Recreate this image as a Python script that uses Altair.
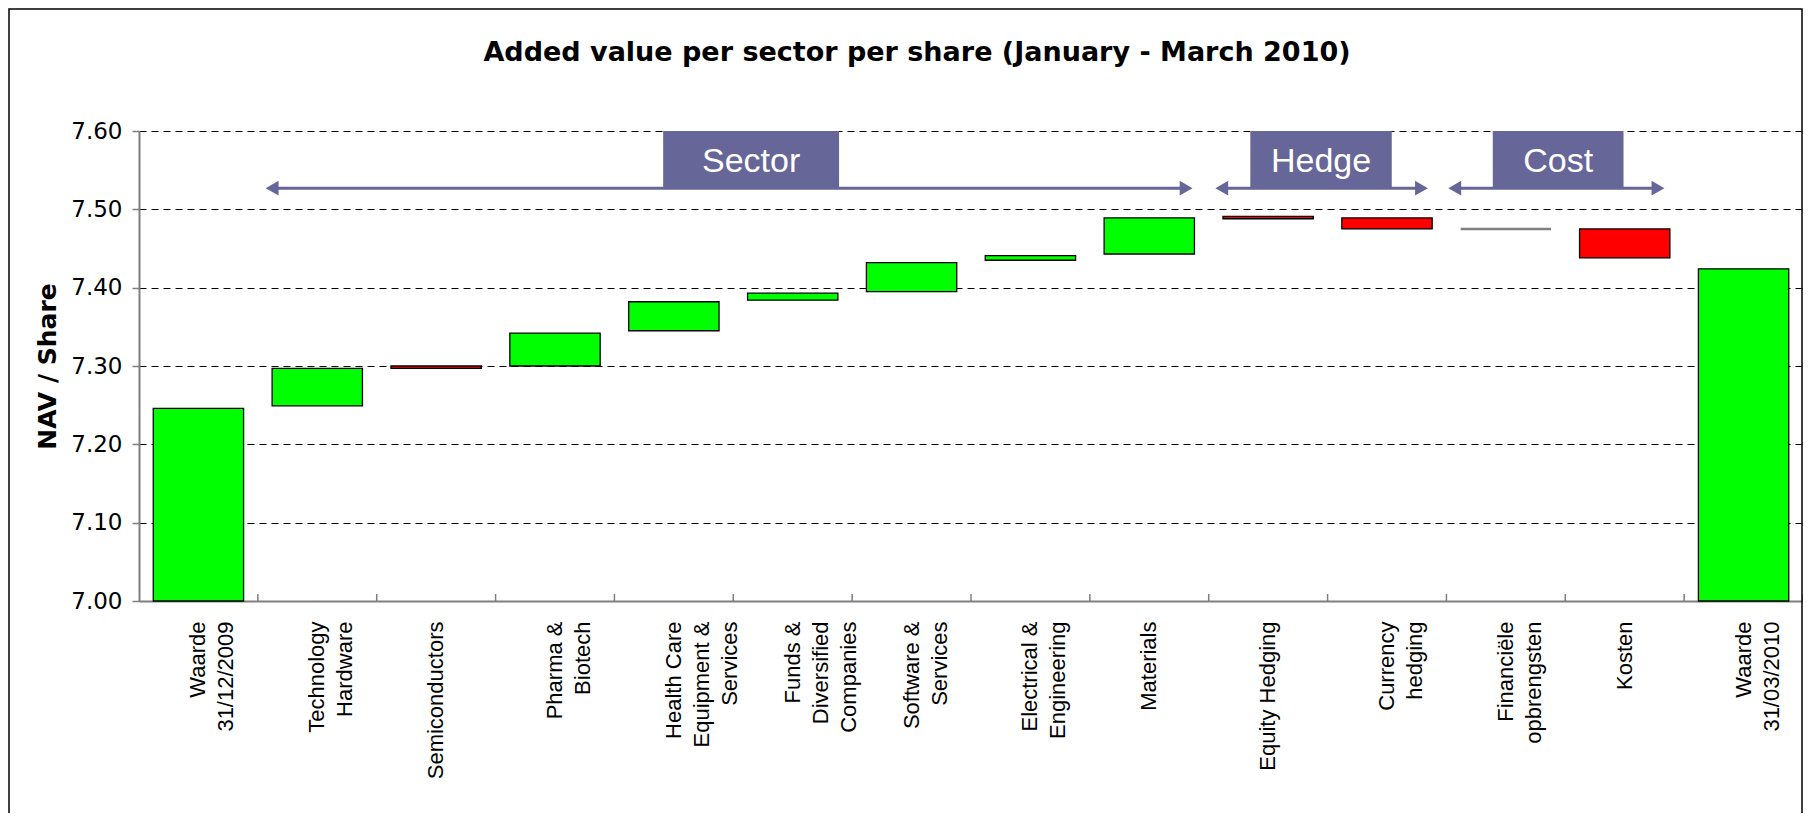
import altair as alt
import pandas as pd

# ---------------- data ----------------
categories = [
    "Waarde\n31/12/2009",
    "Technology\nHardware",
    "Semiconductors",
    "Pharma &\nBiotech",
    "Health Care\nEquipment &\nServices",
    "Funds &\nDiversified\nCompanies",
    "Software &\nServices",
    "Electrical &\nEngineering",
    "Materials",
    "Equity Hedging",
    "Currency\nhedging",
    "Financiële\nopbrengsten",
    "Kosten",
    "Waarde\n31/03/2010",
]
bar_start = [7.000, 7.249, 7.300, 7.300, 7.345, 7.384, 7.395, 7.435, 7.443, 7.491, 7.489, 7.475, 7.475, 7.000]
bar_end   = [7.246, 7.297, 7.297, 7.342, 7.382, 7.393, 7.432, 7.441, 7.489, 7.488, 7.475, 7.475, 7.438, 7.424]
bar_kind  = ["total", "up", "down", "up", "up", "up", "up", "up", "up", "down", "down", "zero", "down", "total"]

y_ticks = [7.0, 7.1, 7.2, 7.3, 7.4, 7.5, 7.6]
title_text = "Added value per sector per share (January - March 2010)"
y_title = "NAV / Share"

# group annotations (positions in category-slot units, values in NAV units)
group_labels = ["Sector", "Hedge", "Cost"]
group_box_from = [4.41, 9.35, 11.39]
group_box_to = [5.89, 10.54, 12.49]
group_arrow_from = [1.06, 9.05, 11.01]
group_arrow_to = [8.87, 10.85, 12.84]
group_line_level = [7.527, 7.527, 7.527]
group_box_top = [7.600, 7.600, 7.600]
group_text_level = [7.561, 7.561, 7.561]

slot_boundaries = list(range(1, len(categories) + 1))

# ---------------- layout ----------------
W, H = 1664, 470
PAD_L, PAD_T, PAD_B = 131, 123, 212
PURPLE = "#666699"
YSCALE = alt.Scale(domain=[7.0, 7.6], nice=False, zero=False)

df = pd.DataFrame({
    "cat": categories,
    "lo": bar_start,
    "hi": bar_end,
    "kind": bar_kind,
})

ann = pd.DataFrame({
    "label": group_labels,
    "b1": group_box_from,
    "b2": group_box_to,
    "a1": group_arrow_from,
    "a2": group_arrow_to,
    "line": group_line_level,
    "top": group_box_top,
    "tl": group_text_level,
})

bars = alt.Chart(df).mark_bar().encode(
    x=alt.X(
        "cat:N",
        sort=categories,
        scale=alt.Scale(paddingInner=0.24, paddingOuter=0.12),
        axis=alt.Axis(
            title=None,
            labelAngle=270,
            labelExpr="split(datum.label, '\\n')",
            labelFont="Liberation Sans",
            labelFontSize=22,
            labelColor="black",
            labelLineHeight=28,
            labelPadding=20,
            labelLimit=400,
            labelOverlap=False,
            ticks=False,
            domainColor="#7f7f7f",
            domainWidth=2,
        ),
    ),
    y=alt.Y(
        "lo:Q",
        scale=YSCALE,
        title=y_title,
        axis=alt.Axis(
            values=y_ticks,
            format=".2f",
            labelFont="DejaVu Sans",
            labelFontSize=23,
            labelColor="black",
            labelPadding=10,
            tickSize=7,
            tickColor="#7f7f7f",
            tickWidth=1.5,
            domainColor="#7f7f7f",
            domainWidth=2,
            grid=True,
            gridColor="black",
            gridDash=[7, 5],
            gridWidth=1,
            titleFont="DejaVu Sans",
            titleFontWeight="bold",
            titleFontSize=25,
            titleColor="black",
            titlePadding=10,
        ),
    ),
    y2="hi:Q",
    fill=alt.Fill(
        "kind:N",
        scale=alt.Scale(domain=["total", "up", "down", "zero"],
                        range=["#00ff00", "#00ff00", "#ff0000", "#808080"]),
        legend=None,
    ),
    stroke=alt.Stroke(
        "kind:N",
        scale=alt.Scale(domain=["total", "up", "down", "zero"],
                        range=["#000000", "#000000", "#000000", "#808080"]),
        legend=None,
    ),
    strokeWidth=alt.condition("datum.kind == 'zero'", alt.value(2.5), alt.value(1.3)),
)

UX = alt.Scale(domain=[0, len(categories)], nice=False, zero=False)

tick_marks = alt.Chart(alt.Data(values=[{"u": b} for b in slot_boundaries])).mark_rule(
    color="#7f7f7f", strokeWidth=1.5
).encode(
    x=alt.X("u:Q", scale=UX, axis=None),
    y=alt.value(H - 7),
    y2=alt.value(H),
)

boxes = alt.Chart(ann).mark_rect(color=PURPLE).encode(
    x=alt.X("b1:Q", scale=UX, axis=None),
    x2="b2:Q",
    y=alt.Y("line:Q", scale=YSCALE, title=y_title),
    y2="top:Q",
)

box_text = alt.Chart(ann).transform_calculate(
    bc="(datum.b1 + datum.b2) / 2"
).mark_text(
    color="white", font="Liberation Sans", fontSize=34, align="center", baseline="middle"
).encode(
    x=alt.X("bc:Q", scale=UX, axis=None),
    y=alt.Y("tl:Q", scale=YSCALE, title=y_title),
    text="label:N",
)

arrow_line = alt.Chart(ann).transform_calculate(
    s="datum.a1 + 0.06", e="datum.a2 - 0.06"
).mark_rule(color=PURPLE, strokeWidth=3).encode(
    x=alt.X("s:Q", scale=UX, axis=None),
    x2="e:Q",
    y=alt.Y("line:Q", scale=YSCALE, title=y_title),
)

head_left = alt.Chart(ann).transform_calculate(
    s="datum.a1 + 0.06"
).mark_point(shape="triangle-left", filled=True, size=220, color=PURPLE, opacity=1).encode(
    x=alt.X("s:Q", scale=UX, axis=None),
    y=alt.Y("line:Q", scale=YSCALE, title=y_title),
)

head_right = alt.Chart(ann).transform_calculate(
    e="datum.a2 - 0.06"
).mark_point(shape="triangle-right", filled=True, size=220, color=PURPLE, opacity=1).encode(
    x=alt.X("e:Q", scale=UX, axis=None),
    y=alt.Y("line:Q", scale=YSCALE, title=y_title),
)

title_mark = alt.Chart(alt.Data(values=[{"t": title_text}])).mark_text(
    font="DejaVu Sans", fontWeight="bold", fontSize=27, align="center", baseline="middle", color="black"
).encode(
    text="t:N",
    x=alt.value(778),
    y=alt.value(-78),
)

frame = alt.Chart(alt.Data(values=[{"f": 1}])).mark_rect(
    fillOpacity=0, stroke="black", strokeWidth=1.5
).encode(
    x=alt.value(-PAD_L + 1),
    x2=alt.value(W - 1),
    y=alt.value(-PAD_T + 1),
    y2=alt.value(H + PAD_B + 10),
)

annotations = alt.layer(tick_marks, boxes, arrow_line, head_left, head_right, box_text, title_mark, frame)

chart = alt.layer(bars, annotations).resolve_scale(
    x="independent"
).properties(
    width=W,
    height=H,
    padding={"left": PAD_L, "top": PAD_T, "right": 0, "bottom": PAD_B},
    autosize=alt.AutoSizeParams(type="none"),
    background="white",
).configure_view(stroke=None)

chart.save("out.html", embed_options={"renderer": "svg", "actions": False})
